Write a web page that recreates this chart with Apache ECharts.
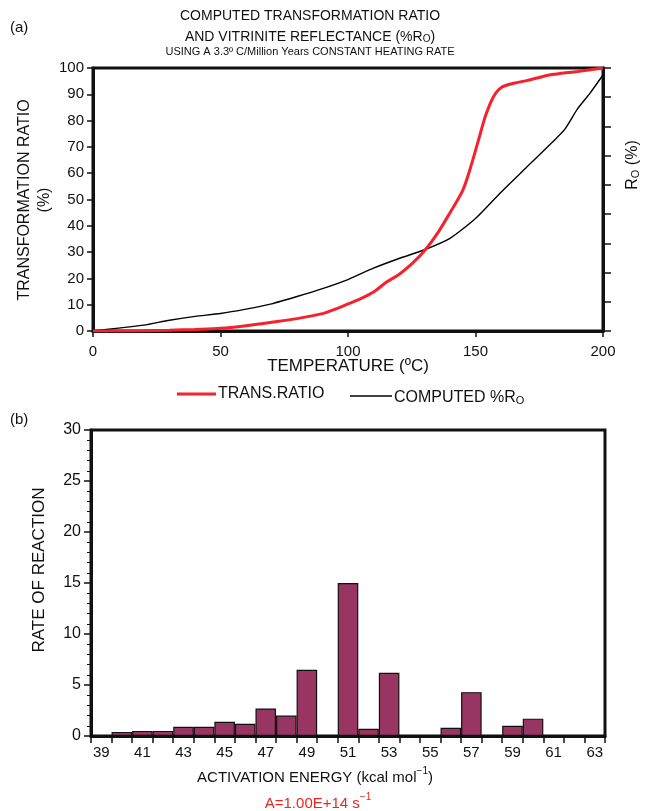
<!DOCTYPE html>
<html>
<head>
<meta charset="utf-8">
<script src="https://cdn.jsdelivr.net/npm/echarts@6/dist/echarts.min.js"></script>
<style>
  html, body { margin: 0; padding: 0; background: #fff; }
  #chart { width: 648px; height: 811px; }
</style>
</head>
<body>
<div id="chart"></div>
<script>
// (a) transformation ratio (%) versus temperature (ºC)
const trTemps = [0, 10, 20, 30, 40, 50, 60, 70, 80, 90, 95, 100, 105, 110, 115, 120, 125, 130, 135, 140, 145, 148, 151, 154, 157, 160, 165, 170, 180, 190, 200];
const trValues = [0, 0, 0.1, 0.3, 0.6, 1.0, 2.0, 3.3, 4.7, 6.6, 8.3, 10.3, 12.3, 14.8, 18.5, 21.5, 25.5, 30.5, 37, 45, 53.5, 62, 72, 82, 89, 92.5, 94.2, 95.2, 97.5, 98.7, 100];

// (a) computed vitrinite reflectance, plotted against the unlabelled right axis
const roTemps = [0, 10, 20, 30, 40, 50, 60, 70, 80, 90, 100, 110, 120, 130, 140, 150, 160, 170, 180, 185, 190, 195, 200];
const roValues = [0, 0.1, 0.2, 0.37, 0.5, 0.6, 0.75, 0.93, 1.18, 1.45, 1.76, 2.15, 2.48, 2.78, 3.17, 3.85, 4.75, 5.6, 6.45, 6.9, 7.6, 8.15, 8.76];

// (b) activation energy distribution (kcal/mol) and rate of reaction
const energies = ['39', '40', '41', '42', '43', '44', '45', '46', '47', '48', '49', '50', '51', '52', '53', '54', '55', '56', '57', '58', '59', '60', '61', '62', '63'];
const rates = [0.1, 0.4, 0.5, 0.5, 0.9, 0.9, 1.4, 1.2, 2.7, 2.0, 6.5, 0, 15.0, 0.7, 6.2, 0, 0, 0.8, 4.3, 0, 1.0, 1.7, 0, 0, 0];

const tempTicks = [0, 50, 100, 150, 200];

const FONT = '"Liberation Sans", Arial, Helvetica, sans-serif';
const INK = '#111';
const RED = '#f5222d';
const BAR = '#983562';

const chart = echarts.init(document.getElementById('chart'), null, { renderer: 'canvas' });

const pair = (xs, ys) => xs.map((x, i) => [x, ys[i]]);

const axisBase = {
  axisLine: { show: true, lineStyle: { color: INK, width: 3 } },
  axisTick: { show: true, inside: false, length: 6, lineStyle: { color: INK, width: 1.5 } },
  axisLabel: { color: INK, fontFamily: FONT, fontSize: 15, margin: 8 },
  splitLine: { show: false }
};

// text with a lowered (sub) or raised (sup) tail, built from rich fragments
function richStyle(size, color) {
  return {
    a: { font: size + 'px ' + FONT, fill: color, lineHeight: size + 4, verticalAlign: 'bottom' },
    sub: { font: Math.round(size * 0.68) + 'px ' + FONT, fill: color, lineHeight: size + 4, verticalAlign: 'bottom', padding: [Math.round(size * 0.45), 0, 0, 0] },
    sup: { font: Math.round(size * 0.68) + 'px ' + FONT, fill: color, lineHeight: size + 4, verticalAlign: 'top', padding: [0, 0, Math.round(size * 0.35), 0] }
  };
}

const option = {
  backgroundColor: '#fff',
  animation: false,
  textStyle: { fontFamily: FONT },
  grid: [
    { left: 93, right: 45, top: 68, bottom: 480, show: true, borderColor: INK, borderWidth: 3 },
    { left: 91, right: 43, top: 430, bottom: 75, show: true, borderColor: INK, borderWidth: 3 }
  ],
  xAxis: [
    Object.assign({}, axisBase, {
      type: 'value', gridIndex: 0, min: 0, max: 200, interval: 50,
      axisLabel: Object.assign({}, axisBase.axisLabel, { fontSize: 15, margin: 13, customValues: tempTicks }),
      axisTick: Object.assign({}, axisBase.axisTick, { customValues: tempTicks })
    }),
    Object.assign({}, axisBase, {
      type: 'category', gridIndex: 1, data: energies,
      boundaryGap: true,
      axisTick: Object.assign({}, axisBase.axisTick, { interval: 0, alignWithLabel: false, length: 7 }),
      axisLabel: Object.assign({}, axisBase.axisLabel, { interval: 1, fontSize: 15, margin: 9 })
    })
  ],
  yAxis: [
    Object.assign({}, axisBase, {
      type: 'value', gridIndex: 0, min: 0, max: 100, interval: 10,
      axisLabel: Object.assign({}, axisBase.axisLabel, { margin: 9 })
    }),
    Object.assign({}, axisBase, {
      type: 'value', gridIndex: 0, position: 'right', min: 0, max: 9, interval: 1,
      axisLabel: { show: false },
      axisTick: Object.assign({}, axisBase.axisTick, { length: 8 })
    }),
    Object.assign({}, axisBase, {
      type: 'value', gridIndex: 1, min: 0, max: 30, interval: 5,
      axisLabel: Object.assign({}, axisBase.axisLabel, { fontSize: 16, margin: 10 }),
      axisTick: Object.assign({}, axisBase.axisTick, { length: 7 }),
      minorTick: { show: true, splitNumber: 5, length: 4, lineStyle: { color: INK, width: 1 } }
    })
  ],
  series: [
    {
      name: 'TRANS.RATIO', type: 'line', xAxisIndex: 0, yAxisIndex: 0,
      data: pair(trTemps, trValues), smooth: 0.3, showSymbol: false,
      lineStyle: { color: RED, width: 3 }, z: 3
    },
    {
      name: 'COMPUTED %RO', type: 'line', xAxisIndex: 0, yAxisIndex: 1,
      data: pair(roTemps, roValues), smooth: 0.2, showSymbol: false,
      lineStyle: { color: '#000', width: 1.4 }, z: 2
    },
    {
      name: 'RATE OF REACTION', type: 'bar', xAxisIndex: 1, yAxisIndex: 2,
      data: rates, barWidth: '100%', barCategoryGap: 0,
      itemStyle: { color: BAR, borderColor: '#111', borderWidth: 1.2 }
    }
  ],
  graphic: [
    // panel letters
    { type: 'text', left: 10, top: 20, style: { text: '(a)', font: '15px ' + FONT, fill: INK } },
    { type: 'text', left: 10, top: 412, style: { text: '(b)', font: '15px ' + FONT, fill: INK } },
    // title block
    { type: 'text', x: 310, y: 9, style: { text: 'COMPUTED TRANSFORMATION RATIO', font: '14px ' + FONT, fill: INK, align: 'center' } },
    { type: 'text', x: 310, y: 26, style: {
        text: '{a|AND VITRINITE REFLECTANCE (%R}{sub|O}{a|)}', align: 'center', rich: richStyle(14, INK) } },
    { type: 'text', x: 310, y: 46, style: { text: 'USING A 3.3º C/Million Years CONSTANT HEATING RATE', font: '11px ' + FONT, fill: INK, align: 'center' } },
    // axis titles of (a)
    { type: 'text', x: 17, y: 200, rotation: Math.PI / 2, style: { text: 'TRANSFORMATION RATIO', font: '16px ' + FONT, fill: INK, align: 'center', verticalAlign: 'top' } },
    { type: 'text', x: 37, y: 200, rotation: Math.PI / 2, style: { text: '(%)', font: '16px ' + FONT, fill: INK, align: 'center', verticalAlign: 'top' } },
    { type: 'text', x: 621, y: 165, rotation: Math.PI / 2, style: {
        text: '{a|R}{sub|O}{a| (%)}', align: 'center', verticalAlign: 'top', rich: richStyle(16, INK) } },
    { type: 'text', x: 348, y: 358, style: { text: 'TEMPERATURE (ºC)', font: '17px ' + FONT, fill: INK, align: 'center' } },
    // legend of (a)
    { type: 'line', shape: { x1: 177, y1: 394, x2: 216, y2: 394 }, style: { stroke: RED, lineWidth: 3 } },
    { type: 'text', x: 218, y: 386, style: { text: 'TRANS.RATIO', font: '16px ' + FONT, fill: INK } },
    { type: 'line', shape: { x1: 350, y1: 396, x2: 392, y2: 396 }, style: { stroke: '#000', lineWidth: 1.5 } },
    { type: 'text', x: 394, y: 386, style: { text: '{a|COMPUTED %R}{sub|O}', rich: richStyle(16, INK) } },
    // axis titles of (b)
    { type: 'text', x: 31, y: 570, rotation: Math.PI / 2, style: { text: 'RATE OF REACTION', font: '17px ' + FONT, fill: INK, align: 'center', verticalAlign: 'top' } },
    { type: 'text', x: 315, y: 766, style: {
        text: '{a|ACTIVATION ENERGY (kcal mol}{sup|−1}{a|)}', align: 'center', rich: richStyle(15, INK) } },
    { type: 'text', x: 318, y: 792, style: {
        text: '{a|A=1.00E+14 s}{sup|−1}', align: 'center', rich: richStyle(15, '#e8261e') } }
  ]
};

chart.setOption(option);
</script>
</body>
</html>
